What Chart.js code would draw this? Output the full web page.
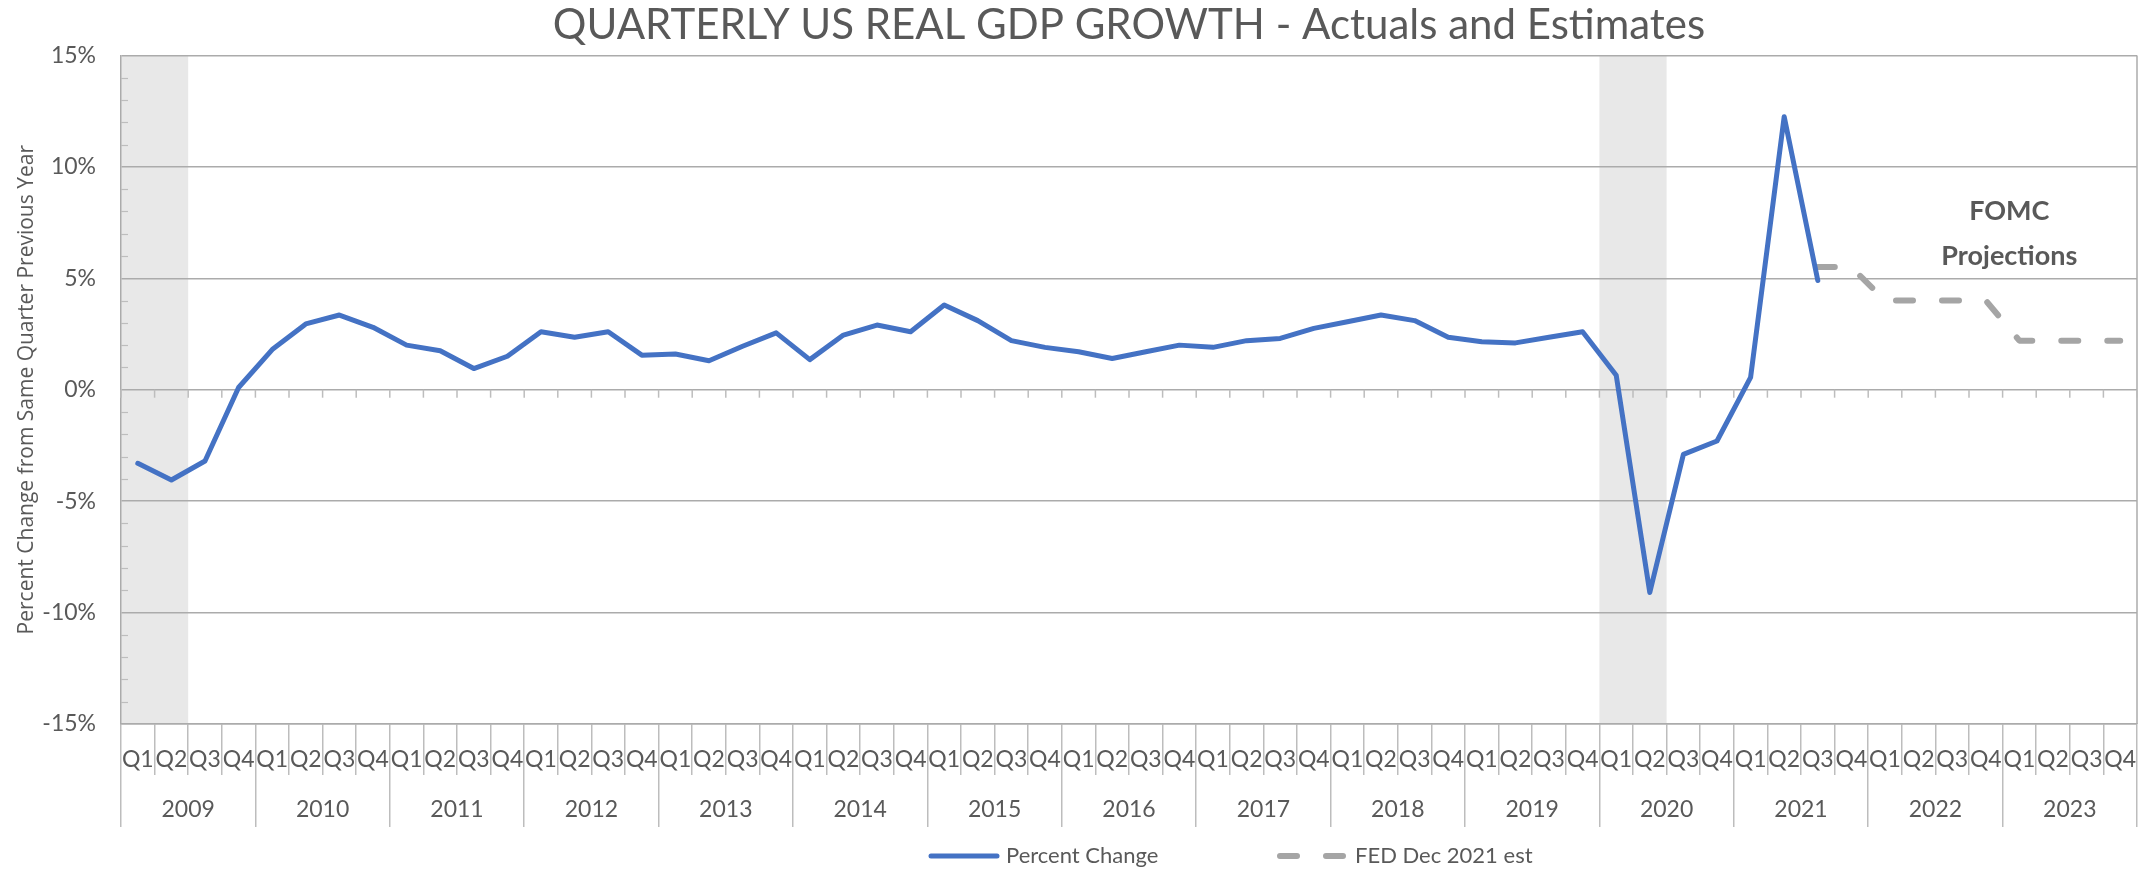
<!DOCTYPE html>
<html>
<head>
<meta charset="utf-8">
<script src="https://cdn.jsdelivr.net/npm/chart.js@4.4.1/dist/chart.umd.min.js"></script>
<style>
  html, body { margin: 0; padding: 0; background: #ffffff; }
  #wrap { width: 2152px; height: 869px; position: relative; }
</style>
</head>
<body>
<div id="wrap"><canvas id="c" width="2152" height="869"></canvas></div>
<script>
// ---------------- DATA ----------------
const years = ['2009','2010','2011','2012','2013','2014','2015','2016','2017','2018','2019','2020','2021','2022','2023'];
const quarterNames = ['Q1','Q2','Q3','Q4'];

// Year-over-year % change, 2009 Q1 .. 2021 Q3
const actualValues = [
  -3.3, -4.05, -3.2, 0.1,    // 2009
  1.8, 2.95, 3.35, 2.8,      // 2010
  2.0, 1.75, 0.95, 1.5,      // 2011
  2.6, 2.35, 2.6, 1.55,      // 2012
  1.6, 1.3, 1.95, 2.55,      // 2013
  1.35, 2.45, 2.9, 2.6,      // 2014
  3.8, 3.1, 2.2, 1.9,        // 2015
  1.7, 1.4, 1.7, 2.0,        // 2016
  1.9, 2.2, 2.3, 2.75,       // 2017
  3.05, 3.35, 3.1, 2.35,     // 2018
  2.15, 2.1, 2.35, 2.6,      // 2019
  0.65, -9.1, -2.9, -2.3,    // 2020
  0.55, 12.25, 4.9           // 2021 Q1-Q3
];

// FED Dec 2021 projections, 2021 Q3 .. 2023 Q4
const fedStartQuarter = '2021 Q3';
const fedValues = [5.5, 5.5, 4.0, 4.0, 4.0, 4.0, 2.2, 2.2, 2.2, 2.2];

// Recession shading (first and last quarter of each span)
const recessionSpans = [['2009 Q1', '2009 Q2'], ['2020 Q1', '2020 Q2']];

const yTickValues = [-15, -10, -5, 0, 5, 10, 15];
const seriesLabels = ['Percent Change', 'FED Dec 2021 est'];
const titleText = 'QUARTERLY US REAL GDP GROWTH - Actuals and Estimates';
const yAxisTitle = 'Percent Change from Same Quarter Previous Year';
const noteLines = ['FOMC', 'Projections'];
const noteAnchor = { quarterIndex: 55.7, yValues: [8.0, 6.0] };

// ---------------- BUILD ----------------
const quarterKeys = [];
years.forEach(y => quarterNames.forEach(q => quarterKeys.push(y + ' ' + q)));
const actualSeries = quarterKeys.map((k, i) => i < actualValues.length ? actualValues[i] : null);
const fedStart = quarterKeys.indexOf(fedStartQuarter);
const fedSeries = quarterKeys.map((k, i) => (i >= fedStart && i - fedStart < fedValues.length) ? fedValues[i - fedStart] : null);

const TEXT = '#595959';
const GRID = '#ababab';
const TICKC = '#bdbdbd';
const BLUE = '#4472C4';
const GREY = '#A5A5A5';

const decor = {
  id: 'decor',
  beforeDraw(chart) {
    const { ctx, chartArea: a, scales: { x } } = chart;
    const half = (x.getPixelForValue(1) - x.getPixelForValue(0)) / 2;
    ctx.save();
    ctx.fillStyle = '#e8e8e8';
    recessionSpans.forEach(([s, e]) => {
      const xl = x.getPixelForValue(quarterKeys.indexOf(s)) - half;
      const xr = x.getPixelForValue(quarterKeys.indexOf(e)) + half;
      ctx.fillRect(xl, a.top, xr - xl, a.bottom - a.top);
    });
    ctx.restore();
  },
  beforeDatasetsDraw(chart) {
    const { ctx, chartArea: a, scales: { x, y } } = chart;
    const half = (x.getPixelForValue(1) - x.getPixelForValue(0)) / 2;
    ctx.save();
    // right border of plot
    ctx.strokeStyle = GRID; ctx.lineWidth = 1.5;
    ctx.beginPath(); ctx.moveTo(a.right, a.top); ctx.lineTo(a.right, a.bottom); ctx.stroke();
    // minor ticks on the vertical axis
    ctx.strokeStyle = TICKC; ctx.lineWidth = 1.2;
    for (let v = y.min; v <= y.max; v += 1) {
      if (yTickValues.includes(v)) continue;
      const py = Math.round(y.getPixelForValue(v)) + 0.5;
      ctx.beginPath(); ctx.moveTo(a.left, py); ctx.lineTo(a.left + 7, py); ctx.stroke();
    }
    // category tick marks hanging from the 0% line
    const y0 = y.getPixelForValue(0);
    ctx.strokeStyle = TICKC; ctx.lineWidth = 1.5;
    for (let i = 0; i <= quarterKeys.length; i++) {
      const px = (i < quarterKeys.length ? x.getPixelForValue(i) - half : x.getPixelForValue(i - 1) + half);
      ctx.beginPath(); ctx.moveTo(px, y0); ctx.lineTo(px, y0 + 8); ctx.stroke();
    }
    ctx.restore();
  },
  afterDatasetsDraw(chart) {
    const { ctx, scales: { x, y } } = chart;
    ctx.save();
    ctx.fillStyle = TEXT;
    ctx.font = 'bold 27px Lato';
    ctx.textAlign = 'center';
    ctx.textBaseline = 'middle';
    const cx = x.getPixelForValue(noteAnchor.quarterIndex);
    noteLines.forEach((t, i) => ctx.fillText(t, cx, y.getPixelForValue(noteAnchor.yValues[i])));
    ctx.restore();
  },
  afterDraw(chart) {
    // legend
    const { ctx } = chart;
    const starts = [928, 1277];
    const cy = 856;
    ctx.save();
    ctx.font = '22px Lato';
    ctx.textBaseline = 'middle';
    ctx.textAlign = 'left';
    chart.data.datasets.forEach((ds, i) => {
      const x0 = starts[i];
      ctx.strokeStyle = ds.borderColor;
      ctx.lineWidth = ds.borderWidth;
      ctx.lineCap = 'round';
      ctx.setLineDash(ds.borderDash || []);
      ctx.beginPath(); ctx.moveTo(x0 + 3, cy); ctx.lineTo(x0 + 69, cy); ctx.stroke();
      ctx.setLineDash([]);
      ctx.fillStyle = TEXT;
      ctx.fillText(ds.label, x0 + 78, cy);
    });
    ctx.restore();
  }
};

new Chart(document.getElementById('c').getContext('2d'), {
  type: 'line',
  data: {
    labels: quarterKeys,
    datasets: [
      { label: seriesLabels[0], data: actualSeries, borderColor: BLUE, backgroundColor: BLUE,
        borderWidth: 5, pointRadius: 0, tension: 0, borderCapStyle: 'round', borderJoinStyle: 'round', spanGaps: false },
      { label: seriesLabels[1], data: fedSeries, borderColor: GREY, backgroundColor: GREY,
        borderWidth: 6, borderDash: [17, 29], pointRadius: 0, tension: 0, borderCapStyle: 'round', borderJoinStyle: 'round', spanGaps: false }
    ]
  },
  options: {
    responsive: false,
    animation: false,
    devicePixelRatio: 1,
    layout: { padding: { left: 0, right: 15, top: 0, bottom: 0 } },
    plugins: {
      legend: { display: false },
      tooltip: { enabled: false },
      title: {
        display: true, text: titleText, color: TEXT, fullSize: false,
        font: { family: 'Lato', size: 42, weight: '400' },
        padding: { top: 0, bottom: 5 }
      }
    },
    scales: {
      x: {
        type: 'category', offset: true,
        grid: { offset: true, drawOnChartArea: false, drawTicks: true, tickLength: 51, color: TICKC, lineWidth: 1.5 },
        border: { display: true, color: GRID, width: 1.5 },
        ticks: { autoSkip: false, maxRotation: 0, minRotation: 0, padding: -29, color: TEXT,
          font: { family: 'Lato', size: 23 },
          callback: (v, i) => quarterKeys[i].split(' ')[1] },
        afterFit: s => { s.height = 51; }
      },
      x2: {
        type: 'category', labels: years, position: 'bottom', offset: true,
        grid: { offset: true, drawOnChartArea: false, drawTicks: true, tickLength: 52, color: TICKC, lineWidth: 1.5 },
        border: { display: false },
        ticks: { autoSkip: false, maxRotation: 0, minRotation: 0, padding: -31, color: TEXT,
          font: { family: 'Lato', size: 23 } },
        afterFit: s => { s.height = 94; }
      },
      y: {
        min: -15, max: 15,
        afterBuildTicks: s => { s.ticks = yTickValues.map(v => ({ value: v })); },
        ticks: { padding: 25, color: TEXT, font: { family: 'Lato', size: 23 }, callback: v => v + '%' },
        grid: { color: GRID, lineWidth: 1.5, drawTicks: false },
        border: { display: true, color: GRID, width: 1.5 },
        title: { display: true, text: yAxisTitle, color: TEXT, font: { family: 'Open Sans', size: 21 }, padding: { top: 14, bottom: 0 } },
        afterFit: s => { s.width = 121; }
      }
    }
  },
  plugins: [decor]
});
</script>
</body>
</html>
